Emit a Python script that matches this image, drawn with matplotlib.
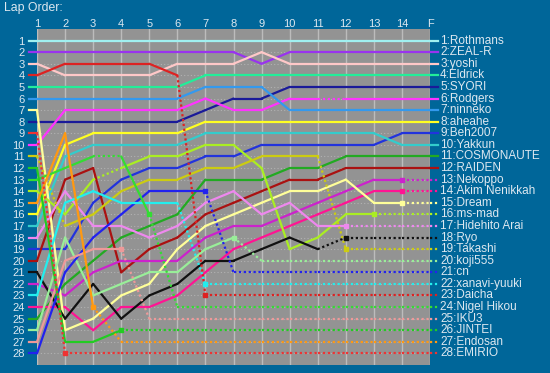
import matplotlib
matplotlib.use('Agg')
import matplotlib.pyplot as plt

plt.rcParams['font.family'] = ['Liberation Sans', 'DejaVu Sans']

laps = ['1', '2', '3', '4', '5', '6', '7', '8', '9', '10', '11', '12', '13', '14', 'F']

names = ['Rothmans', 'ZEAL-R', 'yoshi', 'Eldrick', 'SYORI', 'Rodgers', 'ninneko',
         'aheahe', 'Beh2007', 'Yakkun', 'COSMONAUTE', 'RAIDEN', 'Nekoppo',
         'Akim Nenikkah', 'Dream', 'ms-mad', 'Hidehito Arai', 'Ryo', 'Takashi',
         'koji555', 'cn', 'xanavi-yuuki', 'Daicha', 'Nigel Hikou', 'IKU3',
         'JINTEI', 'Endosan', 'EMIRIO']

colors = ['#a0f0f0', '#9933ee', '#ffc8c8', '#22ee99', '#1a1a99', '#ff33ff', '#3399ee',
          '#ffff22', '#2233dd', '#33cccc', '#22aa22', '#aa1111', '#cc22cc',
          '#ff1493', '#ffff99', '#aaee22', '#ee88ee', '#111111', '#cccc11',
          '#99ee99', '#2222ee', '#22eeee', '#dd2222', '#33dd33', '#ee9999',
          '#22cc22', '#ff9911', '#ee3333']

# position at every lap (1..14, F)
order = [
    [1, 1, 1, 1, 1, 1, 1, 1, 1, 1, 1, 1, 1, 1, 1],
    [2, 2, 2, 2, 2, 2, 2, 2, 3, 2, 2, 2, 2, 2, 2],
    [3, 4, 4, 4, 4, 3, 3, 3, 2, 3, 3, 3, 3, 3, 3],
    [5, 5, 5, 5, 5, 5, 4, 4, 4, 4, 4, 4, 4, 4, 4],
    [8, 8, 8, 8, 8, 8, 7, 6, 6, 5, 5, 5, 5, 5, 5],
    [10, 7, 7, 7, 7, 7, 6, 7, 7, 6, 6, 6, 6, 6, 6],
    [6, 6, 6, 6, 6, 6, 5, 5, 5, 7, 7, 7, 7, 7, 7],
    [16, 10, 9, 9, 9, 9, 8, 8, 8, 8, 8, 8, 8, 8, 8],
    [19, 19, 15, 13, 12, 12, 11, 11, 10, 10, 10, 10, 10, 9, 9],
    [17, 11, 10, 10, 10, 10, 9, 9, 9, 9, 9, 9, 9, 10, 10],
    [25, 22, 20, 18, 17, 16, 13, 13, 13, 12, 12, 11, 11, 11, 11],
    [20, 13, 12, 21, 19, 18, 16, 15, 14, 13, 13, 12, 12, 12, 12],
    [22, 23, 21, 20, 20, 20, 18, 17, 17, 16, 15, 14, 13, 13, 13],
    [24, 24, 26, 24, 24, 23, 21, 19, 18, 17, 16, 15, 14, 14, 14],
    [7, 26, 25, 23, 22, 19, 17, 16, 15, 14, 14, 13, 15, 15, 15],
    [14, 16, 13, 12, 11, 11, 10, 10, 12, 19, 18, 16, 16, 16, 16],
    [18, 14, 17, 17, 18, 17, 15, 14, 16, 15, 17, 17, 17, 17, 17],
    [21, 25, 22, 25, 23, 22, 20, 20, 19, 18, 19, 18, 18, 18, 18],
    [11, 17, 16, 14, 13, 13, 12, 12, 11, 11, 11, 19, 19, 19, 19],
    [26, 18, 23, 22, 21, 21, 19, 18, 20, 20, 20, 20, 20, 20, 20],
    [28, 21, 18, 16, 14, 14, 14, 21, 21, 21, 21, 21, 21, 21, 21],
    [23, 15, 14, 15, 15, 15, 22, 22, 22, 22, 22, 22, 22, 22, 22],
    [4, 3, 3, 3, 3, 4, 23, 23, 23, 23, 23, 23, 23, 23, 23],
    [13, 12, 11, 11, 16, 24, 24, 24, 24, 24, 24, 24, 24, 24, 24],
    [27, 20, 19, 19, 25, 25, 25, 25, 25, 25, 25, 25, 25, 25, 25],
    [12, 27, 27, 26, 26, 26, 26, 26, 26, 26, 26, 26, 26, 26, 26],
    [15, 9, 24, 27, 27, 27, 27, 27, 27, 27, 27, 27, 27, 27, 27],
    [9, 28, 28, 28, 28, 28, 28, 28, 28, 28, 28, 28, 28, 28, 28],
]

# last lap recorded (marker), 15 = finished on the lead lap
last_lap = [15, 15, 15, 15, 15, 15, 15, 15, 15, 15, 15, 15, 14, 14, 14, 13,
            12, 12, 12, 8, 7, 7, 7, 5, 4, 4, 3, 2]

# other dotted stretches (lap the dotted segment starts from)
gaps = {'Rodgers': [11], 'Takashi': [1, 11], 'Ryo': [11], 'ms-mad': [3],
        'Nigel Hikou': [3], 'xanavi-yuuki': [6], 'Daicha': [6], 'EMIRIO': [1]}

bg = '#006699'
txt = '#dde8f0'
dot = (0, (1, 1.2))

fig = plt.figure(figsize=(5.5, 3.73), dpi=100, facecolor=bg)
ax = fig.add_axes([37 / 550, 8 / 373, 393 / 550, 336 / 373])
ax.set_facecolor('#939393')

x = list(range(1, 16))
for k in x:
    ax.axvline(k, color='#bcbcbc', lw=1, zorder=1)
for r in range(1, 29):
    ax.axhline(r, color='#b2b2b2', lw=0.8, ls=(0, (1, 2)), zorder=1)

for i, name in enumerate(names):
    pos = order[i]
    c = colors[i]
    done = last_lap[i]
    dotted = gaps.get(name, [])
    for s in range(14):
        lap = s + 1
        style = dot if (lap >= done or lap in dotted) else '-'
        ax.plot(x[s:s + 2], pos[s:s + 2], color=c, lw=1.6, ls=style,
                zorder=3, solid_capstyle='round', clip_on=False)
    # short leads out to the labels
    ax.plot([0.72, 1], [pos[0], pos[0]], color=c, lw=1.6, zorder=3, clip_on=False)
    ax.plot([15, 15.3], [pos[-1], pos[-1]], color=c, lw=1.6, zorder=3,
            ls=dot if done < 15 else '-', clip_on=False)
    if done < 15:
        ax.plot(done, pos[done - 1], 's', color=c, ms=3, zorder=4, clip_on=False)
    ax.text(15.36, pos[-1], f'{pos[-1]}:{name}', color=txt, fontsize=8.5,
            va='center', ha='left', clip_on=False)

ax.set_xlim(1, 15)
ax.set_ylim(29, 0)
ax.xaxis.tick_top()
ax.set_xticks(x)
ax.set_xticklabels(laps, color=txt, fontsize=8)
ax.set_yticks(range(1, 29))
ax.set_yticklabels([str(r) for r in range(1, 29)], color=txt, fontsize=8)
ax.tick_params(axis='x', length=0, pad=0)
ax.tick_params(axis='y', length=0, pad=9)
for sp in ax.spines.values():
    sp.set_visible(False)

fig.text(4 / 550, 1 - 8 / 373, 'Lap Order:', color=txt, fontsize=8.8,
         va='center', ha='left')

fig.savefig('out.png', dpi=100, facecolor=bg)
